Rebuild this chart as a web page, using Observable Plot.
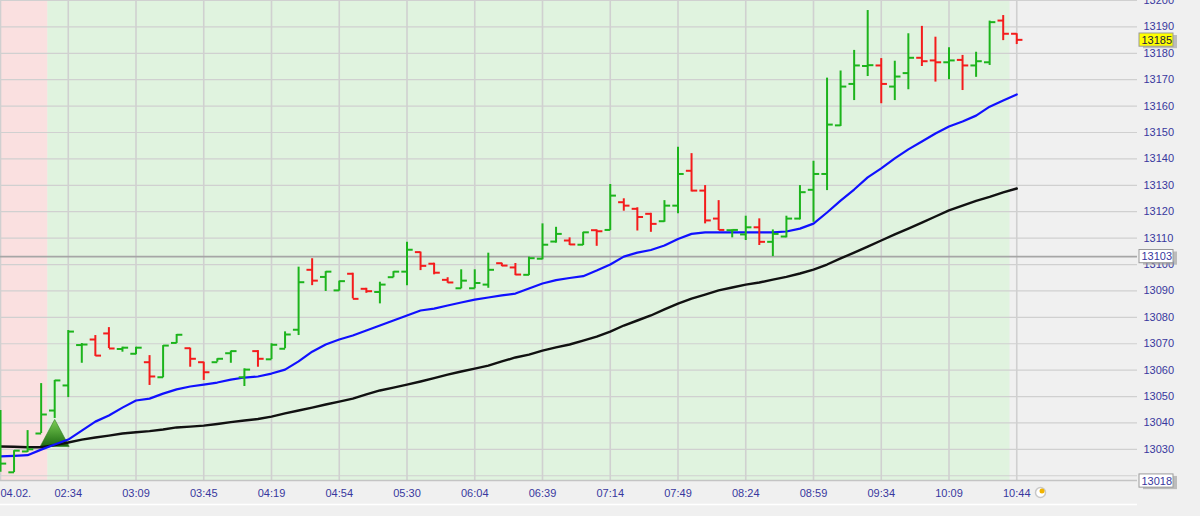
<!DOCTYPE html>
<html>
<head>
<meta charset="utf-8">
<script src="https://cdn.jsdelivr.net/npm/d3@7"></script>
<script src="https://cdn.jsdelivr.net/npm/@observablehq/plot@0.6"></script>
<style>
  html, body { margin: 0; padding: 0; background: #f0f0f0; overflow: hidden; }
  #chart svg { display: block; }
</style>
</head>
<body>
<div id="chart"></div>
<script>
// ---------------- DATA ----------------
const timeLabels = ["04.02.", "02:34", "03:09", "03:45", "04:19", "04:54", "05:30", "06:04",
  "06:39", "07:14", "07:49", "08:24", "08:59", "09:34", "10:09", "10:44"];
const barsPerLabel = 5;

const openPrices = [13022.7, 13021.3, 13029.2, 13036.0, 13044.7, 13054.2, 13069.5, 13071.6, 13073.9, 13068.0,
  13066.2, 13063.0, 13057.3, 13070.3, 13068.3, 13063.0, 13063.0, 13066.4, 13057.3, 13067.2,
  13064.1, 13068.1, 13075.3, 13098.0, 13095.3, 13090.2, 13096.5, 13090.8, 13089.6, 13095.2,
  13097.3, 13104.7, 13100.3, 13094.2, 13091.0, 13091.0, 13092.4, 13100.5, 13098.9, 13096.1,
  13102.2, 13108.7, 13109.1, 13107.5, 13113.0, 13113.1, 13123.6, 13121.1, 13119.2, 13116.4,
  13122.3, 13135.5, 13128.0, 13117.4, 13113.0, 13111.4, 13114.1, 13108.6, 13110.6, 13117.4,
  13128.3, 13134.3, 13152.7, 13168.4, 13175.2, 13175.4, 13167.4, 13172.5, 13178.3, 13177.3,
  13176.6, 13177.5, 13175.4, 13176.6, 13192.4, 13187.4];
const highPrices = [13044.7, 13029.5, 13037.1, 13054.9, 13056.1, 13075.0, 13070.1, 13073.1, 13076.1, 13068.7,
  13068.7, 13065.5, 13069.3, 13073.5, 13068.3, 13063.0, 13064.3, 13067.2, 13060.5, 13067.4,
  13070.0, 13074.5, 13099.0, 13102.2, 13097.3, 13093.7, 13096.7, 13091.0, 13093.3, 13097.3,
  13108.4, 13104.7, 13100.5, 13095.0, 13098.0, 13098.0, 13104.3, 13100.5, 13100.4, 13102.8,
  13115.4, 13114.1, 13110.1, 13112.2, 13113.1, 13130.3, 13124.9, 13121.5, 13119.4, 13124.2,
  13144.4, 13142.0, 13129.9, 13124.2, 13113.1, 13118.3, 13117.3, 13113.1, 13118.3, 13129.9,
  13139.1, 13170.6, 13173.3, 13181.1, 13196.2, 13178.0, 13177.0, 13187.4, 13190.2, 13186.1,
  13182.1, 13179.2, 13180.4, 13192.2, 13194.3, 13187.4];
const lowPrices = [13021.3, 13021.2, 13028.8, 13036.0, 13041.7, 13049.6, 13062.6, 13065.2, 13068.2, 13066.8,
  13065.8, 13054.2, 13057.1, 13070.1, 13061.1, 13056.1, 13063.0, 13062.6, 13053.8, 13061.1,
  13064.0, 13068.1, 13073.1, 13092.0, 13089.8, 13089.9, 13087.0, 13089.1, 13085.1, 13095.0,
  13092.0, 13097.7, 13096.1, 13092.9, 13090.8, 13090.8, 13091.0, 13099.2, 13095.8, 13095.8,
  13101.8, 13108.1, 13107.2, 13107.2, 13106.9, 13112.9, 13120.2, 13112.7, 13112.2, 13116.0,
  13119.2, 13127.5, 13115.4, 13112.9, 13110.1, 13109.1, 13107.2, 13103.0, 13110.1, 13116.9,
  13116.0, 13128.0, 13152.3, 13162.1, 13171.2, 13160.9, 13162.1, 13166.2, 13175.0, 13169.1,
  13170.0, 13165.9, 13170.9, 13175.4, 13184.8, 13183.3];
const closePrices = [13024.6, 13029.5, 13030.0, 13043.2, 13056.1, 13074.6, 13069.7, 13065.5, 13068.2, 13068.5,
  13068.5, 13057.6, 13069.3, 13073.4, 13064.3, 13059.2, 13064.3, 13067.2, 13060.2, 13064.3,
  13069.6, 13073.5, 13093.3, 13093.9, 13097.3, 13093.7, 13087.0, 13089.9, 13092.4, 13097.3,
  13105.6, 13099.5, 13096.9, 13093.2, 13093.9, 13093.0, 13098.0, 13099.6, 13096.2, 13102.4,
  13107.5, 13111.6, 13107.6, 13112.2, 13112.6, 13126.1, 13122.3, 13118.0, 13115.4, 13122.3,
  13134.3, 13128.0, 13116.7, 13113.1, 13113.1, 13114.1, 13108.6, 13111.6, 13117.4, 13127.4,
  13134.3, 13153.0, 13167.4, 13175.4, 13175.5, 13168.4, 13171.2, 13178.3, 13177.0, 13176.6,
  13177.3, 13175.4, 13177.0, 13191.8, 13187.4, 13185.1];

// fast (blue) and slow (black) moving averages, one value per bar
const maFast = [13027.3, 13027.5, 13027.8, 13029.9, 13031.8, 13033.7, 13037.1, 13040.5, 13042.8, 13045.8,
  13048.5, 13049.2, 13051.1, 13052.7, 13053.8, 13054.5, 13055.3, 13056.4, 13057.2, 13057.6,
  13058.7, 13060.2, 13063.3, 13067.0, 13069.7, 13071.6, 13073.1, 13075.0, 13076.9, 13078.8,
  13080.7, 13082.6, 13083.3, 13084.5, 13085.6, 13086.7, 13087.5, 13088.3, 13089.0, 13090.9,
  13092.8, 13094.1, 13094.9, 13095.6, 13097.7, 13100.0, 13103.0, 13104.5, 13105.5, 13107.2,
  13109.7, 13111.6, 13112.2, 13112.2, 13112.2, 13112.2, 13112.2, 13112.2, 13112.5, 13113.6,
  13115.5, 13119.7, 13124.2, 13128.4, 13133.0, 13136.4, 13140.2, 13143.6, 13146.6, 13149.6,
  13152.3, 13154.2, 13156.4, 13159.8, 13162.1, 13164.4];
const maSlow = [13031.1, 13031.0, 13030.8, 13030.8, 13031.6, 13032.6, 13033.7, 13034.5, 13035.2, 13036.0,
  13036.5, 13036.9, 13037.5, 13038.3, 13038.6, 13039.0, 13039.6, 13040.3, 13040.9, 13041.5,
  13042.4, 13043.6, 13044.7, 13045.8, 13047.0, 13048.1, 13049.2, 13050.8, 13052.3, 13053.4,
  13054.5, 13055.7, 13057.0, 13058.3, 13059.5, 13060.6, 13061.7, 13063.3, 13064.8, 13065.9,
  13067.4, 13068.6, 13069.7, 13071.2, 13072.7, 13074.6, 13076.9, 13078.8, 13080.7, 13083.0,
  13085.2, 13087.1, 13088.6, 13090.2, 13091.3, 13092.4, 13093.2, 13094.3, 13095.3, 13096.6,
  13098.1, 13100.0, 13102.3, 13104.5, 13106.8, 13109.1, 13111.4, 13113.6, 13115.9, 13118.2,
  13120.5, 13122.3, 13124.1, 13125.6, 13127.3, 13128.8];

const yTicks = [13030, 13040, 13050, 13060, 13070, 13080, 13090, 13100, 13110, 13120, 13130,
  13140, 13150, 13160, 13170, 13180, 13190, 13200];
const gridLevels = [13020, ...yTicks];
const sessions = [
  {start: -0.5, end: 3.5, kind: "pre"},
  {start: 3.5, end: 74.5, kind: "main"}
];
const signals = [{bar: 4, price: 13034.5}];
const referenceLevel = 13103;
const priceTags = [
  {value: 13185, kind: "last"},
  {value: 13103, kind: "ref"},
  {value: 13018, kind: "low"}
];
const yLow = 13018.2, yHigh = 13200;

// ---------------- LAYOUT / STYLE ----------------
const W = 1200, H = 516;
const barStep = 13.55;          // px per bar
const frameRight = 1137;        // px where the price panel ends
const px = p => p / barStep;    // px -> bar index units
const tickLen = 0.42;           // open/close tick length, bar units
const colors = {
  up: "#1cb41c", down: "#f41c1c", fast: "#1010ff", slow: "#111111",
  pre: "#fae0e0", main: "#e0f3df", grid: "#d0d0d0", ref: "#a6a6a6", label: "#38389e"
};

// upward triangle: r = half width, apex on top, centroid at origin
const signalTriangle = {
  draw(context, size) {
    const w = Math.sqrt(size / Math.PI);
    const h = w * 1.86;
    context.moveTo(0, -h * 2 / 3);
    context.lineTo(w, h / 3);
    context.lineTo(-w, h / 3);
    context.closePath();
  }
};

const bars = openPrices.map((o, i) => ({
  i, open: o, high: highPrices[i], low: lowPrices[i], close: closePrices[i]
}));
const barColor = d => d.close >= d.open ? colors.up : colors.down;
const xTickIdx = timeLabels.map((_, k) => k * barsPerLabel);

const tagFill = {last: "#ffff00", ref: "#ffffff", low: "#ffffff"};

const chart = Plot.plot({
  width: W, height: H,
  marginLeft: 0, marginRight: W - frameRight, marginTop: 0, marginBottom: H - 480,
  style: {background: "#f0f0f0", fontFamily: "'Liberation Sans', Arial, sans-serif", fontSize: "11px", overflow: "hidden"},
  x: {domain: [0, px(frameRight)], axis: null},
  y: {domain: [yLow, yHigh], axis: null},
  marks: [
    Plot.rect(sessions, {x1: "start", x2: "end", y1: yLow, y2: yHigh, fill: d => colors[d.kind]}),
    Plot.ruleY(gridLevels, {stroke: colors.grid, strokeWidth: 1.2}),
    Plot.ruleX(xTickIdx, {stroke: colors.grid, strokeWidth: 1.6}),
    Plot.ruleY([referenceLevel], {stroke: colors.ref, strokeWidth: 1.6}),
    Plot.ruleY([yLow], {stroke: "#c4c4c4", strokeWidth: 1.5}),
    Plot.ruleY([yLow], {dy: 24, stroke: "#ffffff", strokeWidth: 1.5}),
    Plot.dot(signals, {x: "bar", y: "price", symbol: signalTriangle, r: 14.5, fill: "url(#sigGrad)", stroke: "#2f7d22", strokeWidth: 0.6}),
    Plot.lineY(maSlow, {x: (d, i) => i, y: d => d, stroke: colors.slow, strokeWidth: 2.4}),
    Plot.lineY(maFast, {x: (d, i) => i, y: d => d, stroke: colors.fast, strokeWidth: 2.2}),
    Plot.ruleX(bars, {x: "i", y1: "low", y2: "high", stroke: barColor, strokeWidth: 2}),
    Plot.link(bars, {x1: d => d.i - tickLen, x2: "i", y1: "open", y2: "open", stroke: barColor, strokeWidth: 2}),
    Plot.link(bars, {x1: "i", x2: d => d.i + tickLen, y1: "close", y2: "close", stroke: barColor, strokeWidth: 2}),
    Plot.axisY({anchor: "right", ticks: yTicks, tickFormat: d => String(d), tickSize: 0, tickPadding: 6, fill: colors.label}),
    Plot.axisX({ticks: xTickIdx.slice(1), tickFormat: i => timeLabels[i / barsPerLabel], tickSize: 0, tickPadding: 9, fill: colors.label}),
    Plot.axisX({ticks: [0], tickFormat: () => timeLabels[0], tickSize: 0, tickPadding: 9, textAnchor: "start", fill: colors.label}),
    // price tags on the scale
    Plot.rect(priceTags, {x1: px(1141), x2: px(1175), y1: d => d.value - 2.5, y2: d => d.value + 2.5, fill: "#9a9a9a", dx: 2, dy: 2, fillOpacity: 0.6}),
    Plot.rect(priceTags, {x1: px(1139), x2: px(1173), y1: d => d.value - 2.5, y2: d => d.value + 2.5, fill: d => tagFill[d.kind], stroke: "#9a9a9a", strokeWidth: 1}),
    Plot.text(priceTags, {x: px(1141), y: "value", text: d => String(d.value), textAnchor: "start", fill: d => d.kind === "last" ? "#202040" : colors.label}),
    // small clock icon next to the last time label
    Plot.dot([0], {x: px(1040), frameAnchor: "bottom", dy: 12, r: 5, fill: "#ffffff", stroke: "#c8c8c8"}),
    Plot.dot([0], {x: px(1041.5), frameAnchor: "bottom", dy: 10.5, r: 2.5, fill: "#f2b400"})
  ]
});

// gradient for the signal triangle
const ns = "http://www.w3.org/2000/svg";
const defs = document.createElementNS(ns, "defs");
const grad = document.createElementNS(ns, "linearGradient");
grad.setAttribute("id", "sigGrad");
grad.setAttribute("x1", "0"); grad.setAttribute("y1", "0");
grad.setAttribute("x2", "0"); grad.setAttribute("y2", "1");
[["0%", "#7ccf55"], ["100%", "#1c6a12"]].forEach(([o, c]) => {
  const s = document.createElementNS(ns, "stop");
  s.setAttribute("offset", o); s.setAttribute("stop-color", c);
  grad.appendChild(s);
});
defs.appendChild(grad);
chart.insertBefore(defs, chart.firstChild);

document.getElementById("chart").appendChild(chart);
</script>
</body>
</html>
